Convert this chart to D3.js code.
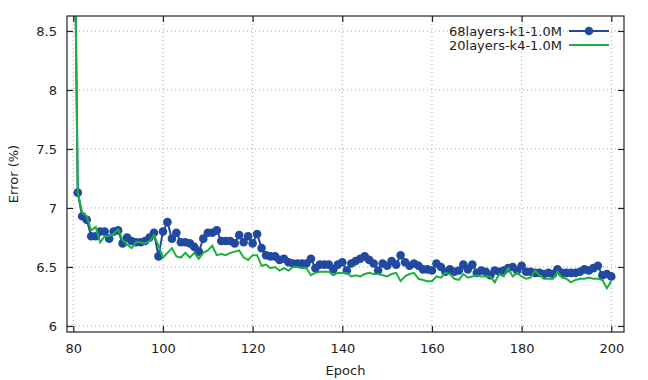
<!DOCTYPE html>
<head>
  <meta charset="utf-8">
  <style>
  body{
    margin:0;
    background:white;
  }
  text{
    font-family: "DejaVu Sans", sans-serif;
    font-size: 13px;
    fill: #222;
  }
  .grid line{
    stroke: #a8a8a8;
    stroke-width: 1;
    stroke-dasharray: 1,3;
  }
  </style>
</head>
<body>
  <svg width="648" height="380"></svg>
  <script src="https://d3js.org/d3.v7.min.js"></script>
  <script>

  // epochs 80..200, one value each
  var firstEpoch = 80;
  var seriesNames = ["68layers-k1-1.0M", "20layers-k4-1.0M"];
  var xTicks = [80, 100, 120, 140, 160, 180, 200];
  var yTicks = [6, 6.5, 7, 7.5, 8, 8.5];

  var blue = [10.4,
    7.13, 6.93, 6.90, 6.76, 6.76, 6.80, 6.80, 6.74, 6.80, 6.81,
    6.70, 6.75, 6.72, 6.71, 6.71, 6.72, 6.75, 6.79, 6.59, 6.80,
    6.88, 6.74, 6.79, 6.71, 6.71, 6.70, 6.67, 6.63, 6.74, 6.79,
    6.79, 6.81, 6.72, 6.72, 6.72, 6.70, 6.77, 6.71, 6.76, 6.70,
    6.78, 6.66, 6.60, 6.59, 6.59, 6.56, 6.57, 6.54, 6.53, 6.53,
    6.53, 6.53, 6.57, 6.49, 6.52, 6.52, 6.52, 6.48, 6.52, 6.54,
    6.47, 6.53, 6.55, 6.57, 6.59, 6.56, 6.53, 6.47, 6.53, 6.51,
    6.55, 6.52, 6.60, 6.54, 6.51, 6.53, 6.51, 6.48, 6.48, 6.47,
    6.53, 6.50, 6.46, 6.48, 6.46, 6.47, 6.52, 6.48, 6.52, 6.45,
    6.47, 6.46, 6.43, 6.47, 6.46, 6.47, 6.49, 6.50, 6.47, 6.51,
    6.46, 6.46, 6.45, 6.45, 6.44, 6.45, 6.44, 6.48, 6.45, 6.45,
    6.45, 6.45, 6.46, 6.48, 6.47, 6.49, 6.51, 6.43, 6.44, 6.42];

  var green = [10.4,
    7.13, 6.96, 6.93, 6.81, 6.84, 6.71, 6.76, 6.76, 6.78, 6.82,
    6.73, 6.69, 6.66, 6.71, 6.71, 6.70, 6.72, 6.77, 6.68, 6.58,
    6.62, 6.66, 6.59, 6.58, 6.62, 6.58, 6.62, 6.57, 6.62, 6.64,
    6.68, 6.60, 6.61, 6.60, 6.62, 6.63, 6.64, 6.58, 6.56, 6.60,
    6.60, 6.51, 6.52, 6.49, 6.50, 6.47, 6.49, 6.47, 6.50, 6.50,
    6.49, 6.49, 6.43, 6.45, 6.46, 6.46, 6.46, 6.43, 6.45, 6.45,
    6.45, 6.42, 6.43, 6.42, 6.44, 6.45, 6.44, 6.44, 6.43, 6.42,
    6.44, 6.45, 6.38, 6.42, 6.44, 6.45, 6.40, 6.39, 6.38, 6.38,
    6.42, 6.41, 6.45, 6.44, 6.40, 6.39, 6.44, 6.41, 6.42, 6.43,
    6.42, 6.42, 6.42, 6.37, 6.44, 6.42, 6.49, 6.42, 6.45, 6.42,
    6.40, 6.41, 6.47, 6.43, 6.40, 6.40, 6.40, 6.46, 6.41, 6.40,
    6.37, 6.39, 6.40, 6.40, 6.41, 6.40, 6.40, 6.39, 6.32, 6.38];

  var colors = ["#2149a0", "#1cb13b"];

  var svg = d3.select("svg"),
      pl = 67, pr = 624, pt = 16, pb = 332;

  var x = d3.scaleLinear().domain([78.6, 202.83]).range([pl, pr]);
  var y = d3.scaleLinear().domain([5.949, 8.627]).range([pb, pt]);

  // grid
  var grid = svg.append("g").attr("class", "grid");
  grid.selectAll(".gx").data(xTicks).enter().append("line")
      .attr("x1", function(d) { return x(d); }).attr("x2", function(d) { return x(d); })
      .attr("y1", pt).attr("y2", pb);
  grid.selectAll(".gy").data(yTicks).enter().append("line")
      .attr("x1", pl).attr("x2", pr)
      .attr("y1", function(d) { return y(d); }).attr("y2", function(d) { return y(d); });

  svg.append("clipPath").attr("id", "clip")
    .append("rect").attr("x", pl).attr("y", pt).attr("width", pr - pl).attr("height", pb - pt);

  var plot = svg.append("g").attr("clip-path", "url(#clip)");

  function pts(arr) { return arr.map(function(v, i) { return [firstEpoch + i, v]; }); }

  var line = d3.line()
      .x(function(d) { return x(d[0]); })
      .y(function(d) { return y(d[1]); });

  plot.append("path").datum(pts(blue))
      .attr("fill", "none").attr("stroke", colors[0]).attr("stroke-width", 2)
      .attr("d", line);

  plot.selectAll("circle").data(pts(blue).slice(1)).enter().append("circle")
      .attr("cx", function(d) { return x(d[0]); })
      .attr("cy", function(d) { return y(d[1]); })
      .attr("r", 4.3)
      .attr("fill", colors[0]);

  plot.append("path").datum(pts(green))
      .attr("fill", "none").attr("stroke", colors[1]).attr("stroke-width", 2)
      .attr("d", line);

  // frame
  svg.append("rect").attr("x", pl).attr("y", pt).attr("width", pr - pl).attr("height", pb - pt)
      .attr("fill", "none").attr("stroke", "#222").attr("stroke-width", 1.2);

  // axes, ticks drawn inward and mirrored
  var tk = 6;
  svg.append("g").attr("transform", "translate(0," + pb + ")")
      .call(d3.axisBottom(x).tickValues(xTicks).tickSize(-tk).tickPadding(12))
      .call(function(g) { g.select(".domain").remove(); });
  svg.append("g").attr("transform", "translate(0," + pt + ")")
      .call(d3.axisTop(x).tickValues(xTicks).tickSize(-tk).tickFormat(""))
      .call(function(g) { g.select(".domain").remove(); });
  svg.append("g").attr("transform", "translate(" + pl + ",0)")
      .call(d3.axisLeft(y).tickValues(yTicks).tickSize(-tk).tickPadding(10).tickFormat(d3.format("")))
      .call(function(g) { g.select(".domain").remove(); });
  svg.append("g").attr("transform", "translate(" + pr + ",0)")
      .call(d3.axisRight(y).tickValues(yTicks).tickSize(-tk).tickFormat(""))
      .call(function(g) { g.select(".domain").remove(); });

  svg.selectAll(".tick line").attr("stroke", "#222").attr("stroke-width", 1.2);
  svg.selectAll(".tick text").style("font-size", "13px").style("font-family", "DejaVu Sans, sans-serif").attr("fill", "#222");

  // axis titles
  svg.append("text").attr("x", (pl + pr) / 2).attr("y", 375).attr("text-anchor", "middle").text("Epoch");
  svg.append("text").attr("transform", "translate(18," + (pt + pb) / 2 + ") rotate(-90)")
      .attr("text-anchor", "middle").text("Error (%)");

  // legend
  var legend = svg.append("g");
  seriesNames.forEach(function(name, i) {
    var ly = 31 + i * 14;
    legend.append("text").attr("x", 562).attr("y", ly).attr("dy", "0.35em")
        .attr("text-anchor", "end").text(name);
    legend.append("line").attr("x1", 569).attr("x2", 609).attr("y1", ly).attr("y2", ly)
        .attr("stroke", colors[i]).attr("stroke-width", 2);
    if (i === 0) legend.append("circle").attr("cx", 589).attr("cy", ly).attr("r", 4.3).attr("fill", colors[i]);
  });

  </script>
</body>
